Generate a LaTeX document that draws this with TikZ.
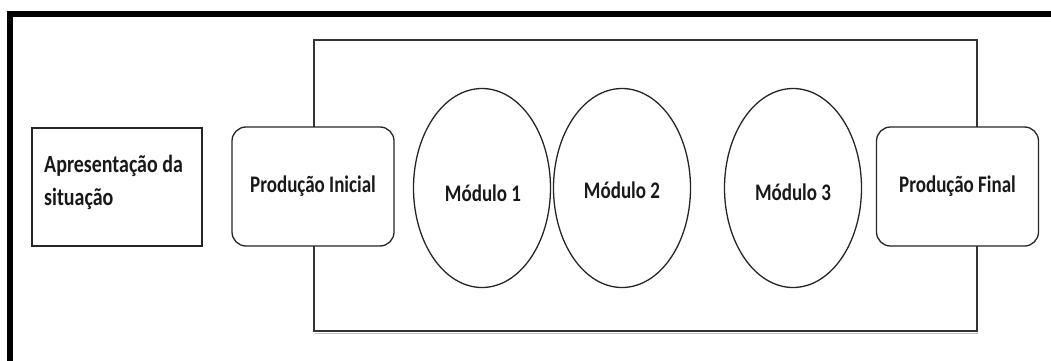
\documentclass[tikz,border=0pt]{standalone}
\usepackage{fontspec}
\setmainfont{Carlito}
\usetikzlibrary{shapes.geometric}
\begin{document}
\begin{tikzpicture}[x=1pt,y=-1pt,
  lbl/.style={font=\fontsize{19}{24}\selectfont\bfseries,text=black!90},
  sqbox/.style={draw=black!85,line width=1.3pt,fill=white,minimum width=170pt,minimum height=118pt,inner sep=0pt},
  rbox/.style={draw=black!85,line width=1.3pt,fill=white,rounded corners=14pt,minimum width=162pt,minimum height=119pt,inner sep=0pt},
  modell/.style={draw=black!85,line width=1.3pt,fill=white,ellipse,minimum width=137pt,minimum height=199pt,inner sep=0pt},
  frame/.style={line width=6pt,black},
  panel/.style={draw=black!80,line width=1.2pt}]
\useasboundingbox (0,0) rectangle (1051,361);
\fill[white] (0,0) rectangle (1051,361);
% outer thick frame
\draw[frame] (10,361) -- (10,14) -- (1051,14);
% big rectangle
\coordinate (bigNW) at (314,40);
\coordinate (bigSE) at (977,331);
\draw[black!25,line width=1.5pt] (315,333.5) -- (978,333.5);
\draw[panel] (bigNW) rectangle (bigSE);
% nodes
\node[sqbox] (apres) at (117,187) {};
\node[lbl,anchor=base west,inner sep=0pt] (apt1) at (44,172) {\scalebox{1.05}[1.3]{Apresentação da}};
\node[lbl,anchor=base west,inner sep=0pt] (apt2) at (44,205) {\scalebox{1.05}[1.3]{situação}};
\node[rbox] (pinit) at (313,186.5) {};
\node[lbl] (pinitt) at (pinit) {\scalebox{1}[1.25]{Produção Inicial}};
\node[modell] (m1) at (482,188) {};
\node[lbl] (m1t) at (483,193) {\scalebox{1}[1.25]{Módulo 1}};
\node[modell] (m2) at (622,188) {};
\node[lbl] (m2t) at (622,190) {\scalebox{1}[1.25]{Módulo 2}};
\node[modell] (m3) at (793,188) {};
\node[lbl] (m3t) at (793,192) {\scalebox{1}[1.25]{Módulo 3}};
\node[rbox] (pfin) at (957.5,186.5) {};
\node[lbl] (pfint) at (pfin) {\scalebox{1}[1.25]{Produção Final}};
\end{tikzpicture}
\end{document}
